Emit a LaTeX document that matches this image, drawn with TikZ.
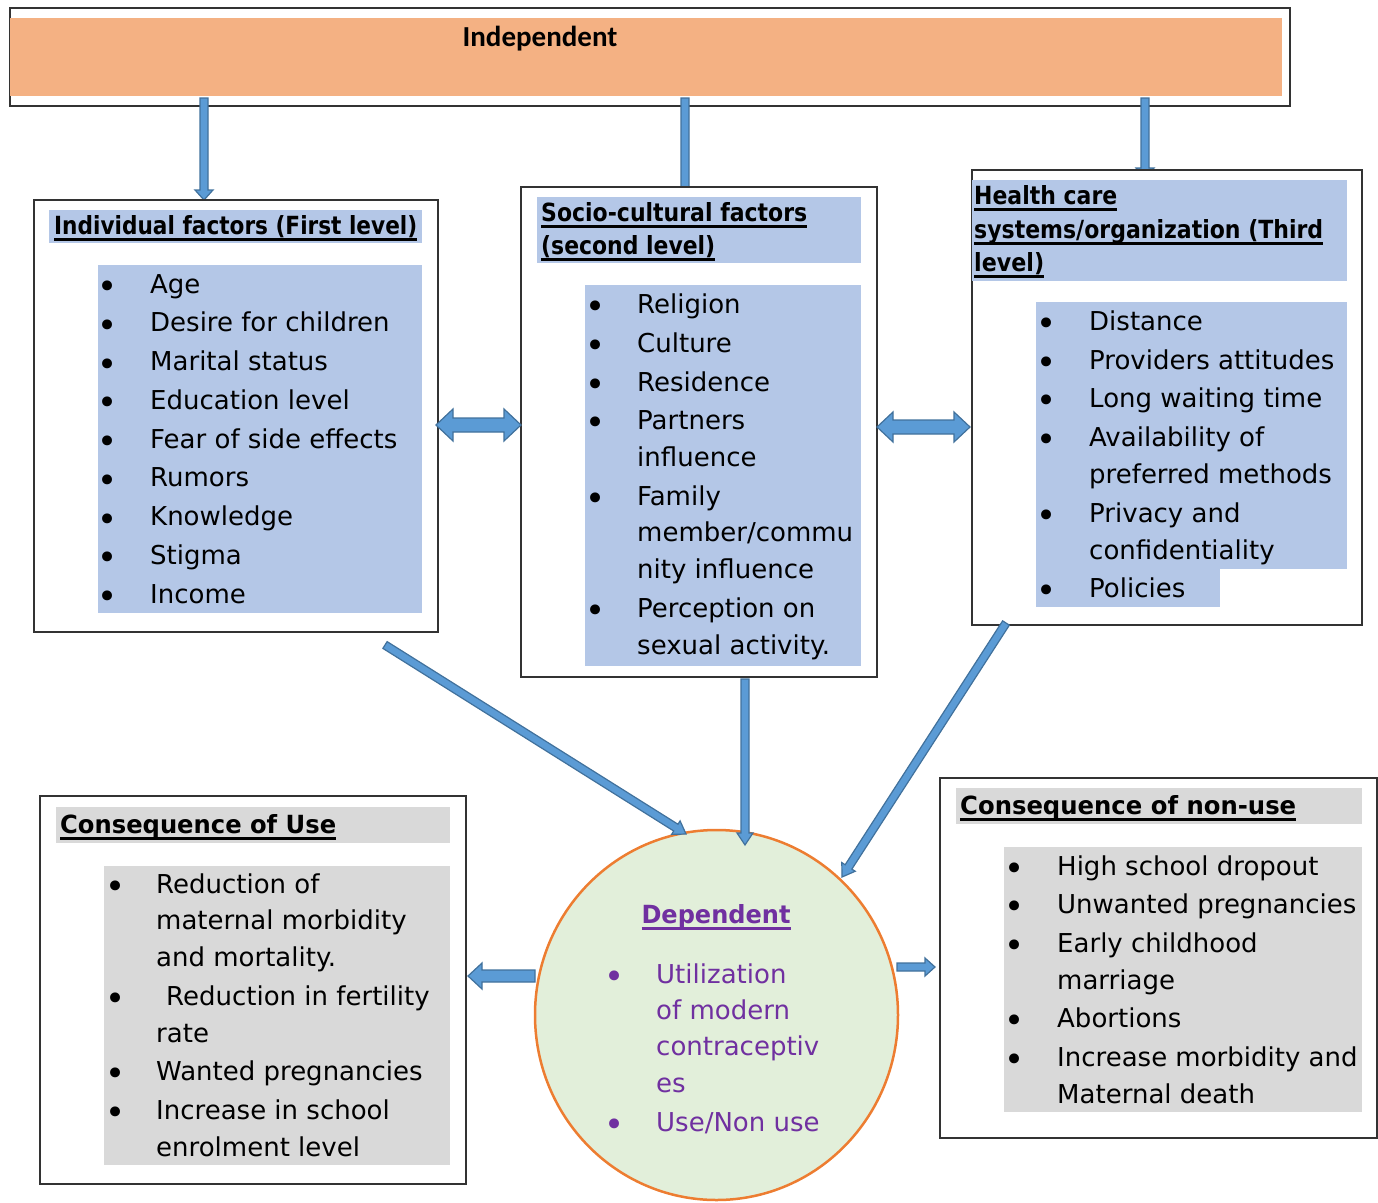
\documentclass[tikz,border=0pt]{standalone}
\usepackage{fontspec}
\usepackage{graphicx}
\setmainfont{DejaVu Sans}
\newfontfamily\carlito{Carlito}
\usetikzlibrary{calc,fit,shapes.geometric}
\definecolor{orangeF}{HTML}{F4B183}
\definecolor{lblue}{HTML}{B4C7E7}
\definecolor{lgray}{HTML}{D9D9D9}
\definecolor{arrF}{HTML}{5B9BD5}
\definecolor{arrD}{HTML}{41719C}
\definecolor{circF}{HTML}{E2EFDA}
\definecolor{circD}{HTML}{ED7D31}
\definecolor{purp}{HTML}{7030A0}
\definecolor{boxD}{HTML}{333333}
\newcommand\ulh[1]{\setbox0\hbox{#1}\rlap{\rule[-6.5pt]{\wd0}{2.2pt}}\box0}
\newcommand\hdl[2]{\resizebox{#1pt}{\height}{\ulh{#2}}}
\newcommand\blockarr[5]{%
  \coordinate (ba-h) at ($(#2)!#5!(#1)$);
  \draw[arr] ($(#1)!#3!90:(#2)$) -- ($(ba-h)!#3!90:(#2)$) -- ($(ba-h)!#4!90:(#2)$) -- (#2)
    -- ($(ba-h)!#4!-90:(#2)$) -- ($(ba-h)!#3!-90:(#2)$) -- ($(#1)!#3!-90:(#2)$) -- cycle;}
\newcommand\dblarr[5]{%
  \coordinate (da-a) at ($(#1)!#5!(#2)$);
  \coordinate (da-b) at ($(#2)!#5!(#1)$);
  \draw[arr] (#1) -- ($(da-a)!#4!90:(#2)$) -- ($(da-a)!#3!90:(#2)$) -- ($(da-b)!#3!90:(#2)$)
    -- ($(da-b)!#4!90:(#2)$) -- (#2) -- ($(da-b)!#4!-90:(#2)$) -- ($(da-b)!#3!-90:(#2)$)
    -- ($(da-a)!#3!-90:(#2)$) -- ($(da-a)!#4!-90:(#2)$) -- cycle;}
\tikzset{
  frame/.style={draw=boxD, line width=1.3pt, fill=white, inner sep=0pt},
  bgb/.style={fill=lblue, inner sep=0pt},
  bgg/.style={fill=lgray, inner sep=0pt},
  lt/.style={anchor=base west, inner sep=0pt, font=\fontsize{26}{30}\selectfont},
  bul/.style={anchor=base, inner sep=0pt, yshift=-5.5pt, font=\fontsize{34}{38}\selectfont},
  hd/.style={anchor=base west, inner sep=0pt, font=\bfseries\fontsize{25}{30}\selectfont},
  arr/.style={draw=arrD, fill=arrF, line width=1.2pt, line join=miter},
}
\begin{document}
\begin{tikzpicture}[x=1pt,y=-1pt]
\useasboundingbox (0,0) rectangle (1378,1202);
% top box
\node[frame, fit={(10,8) (1290,106)}] (top) {};
\node[fill=orangeF, inner sep=0pt, fit={(10,18) (1282,96)}] (topfill) {};
\node[anchor=base, inner sep=0pt, font=\carlito\bfseries\fontsize{29}{34}\selectfont] (indep) at (540,46) {Independent};
% top arrows
\coordinate (t1s) at (204,98); \coordinate (t1e) at (204,200);
\coordinate (t2s) at (685,98); \coordinate (t2e) at (685,197);
\coordinate (t3s) at (1145,98); \coordinate (t3e) at (1145,178);
\blockarr{t1s}{t1e}{4pt}{9pt}{10pt}
\blockarr{t2s}{t2e}{4pt}{9pt}{10pt}
\blockarr{t3s}{t3e}{4pt}{9pt}{10pt}
% individual
\node[frame, fit={(34,200) (438,632)}] (indiv) {};
\node[bgb, fit={(49,210) (422,243)}] (indivh) {};
\node[bgb, fit={(98,265) (422,613)}] (indivl) {};
\node[hd] (ih) at (54,234) {\hdl{363}{Individual factors (First level)}};
\foreach \t [count=\k] in {Age,Desire for children,Marital status,Education level,Fear of side effects,Rumors,Knowledge,Stigma,Income}{
  \node[bul] (ib\k) at (108,{293+38.75*(\k-1)}) {•};
  \node[lt] (it\k) at (150,{293+38.75*(\k-1)}) {\t};
}
% socio-cultural
\node[frame, fit={(521,187) (877,677)}] (socio) {};
\node[bgb, fit={(537,197) (861,263)}] (socioh) {};
\node[bgb, fit={(585,285) (861,666)}] (sociol) {};
\node[hd] (sh1) at (541,221) {\hdl{266}{Socio-cultural factors}};
\node[hd] (sh2) at (541,254) {\hdl{174}{(second level)}};
\node[bul] (sb1) at (596,313) {•}; \node[lt] (st1) at (637,313) {Religion};
\node[bul] (sb2) at (596,352) {•}; \node[lt] (st2) at (637,352) {Culture};
\node[bul] (sb3) at (596,391) {•}; \node[lt] (st3) at (637,391) {Residence};
\node[bul] (sb4) at (596,429) {•}; \node[lt] (st4) at (637,429) {Partners};
\node[lt] (st5) at (637,466) {influence};
\node[bul] (sb6) at (596,505) {•}; \node[lt] (st6) at (637,505) {Family};
\node[lt] (st7) at (637,541) {member/commu};
\node[lt] (st8) at (637,578) {nity influence};
\node[bul] (sb9) at (596,617) {•}; \node[lt] (st9) at (637,617) {Perception on};
\node[lt] (st10) at (637,654) {sexual activity.};
% health care
\node[frame, fit={(972,170) (1362,625)}] (health) {};
\node[bgb, fit={(972,180) (1347,281)}] (healthh) {};
\node[bgb, fit={(1036,302) (1347,569)}] (healthl) {};
\node[bgb, fit={(1036,568) (1220,607)}] (healthl2) {};
\node[hd] (hh1) at (974,204) {\hdl{143}{Health care}};
\node[hd] (hh2) at (974,238) {\hdl{349}{systems/organization (Third}};
\node[hd] (hh3) at (974,271) {\hdl{70}{level)}};
\node[bul] (hb1) at (1047,330) {•}; \node[lt] (ht1) at (1089,330) {Distance};
\node[bul] (hb2) at (1047,369) {•}; \node[lt] (ht2) at (1089,369) {Providers attitudes};
\node[bul] (hb3) at (1047,407) {•}; \node[lt] (ht3) at (1089,407) {Long waiting time};
\node[bul] (hb4) at (1047,446) {•}; \node[lt] (ht4) at (1089,446) {Availability of};
\node[lt] (ht5) at (1089,483) {preferred methods};
\node[bul] (hb6) at (1047,522) {•}; \node[lt] (ht6) at (1089,522) {Privacy and};
\node[lt] (ht7) at (1089,559) {confidentiality};
\node[bul] (hb8) at (1047,597) {•}; \node[lt] (ht8) at (1089,597) {Policies};
% double arrows
\coordinate (d1a) at (436,425); \coordinate (d1b) at (521,425);
\coordinate (d2a) at (877,427); \coordinate (d2b) at (970,427);
\dblarr{d1a}{d1b}{7pt}{16pt}{17pt}
\dblarr{d2a}{d2b}{7pt}{15pt}{16pt}
% dependent circle
\node[ellipse, draw=circD, fill=circF, line width=2.5pt, minimum width=363pt, minimum height=370pt, inner sep=0pt] (dep) at (716.5,1015) {};
\node[anchor=base, inner sep=0pt, text=purp, font=\bfseries\fontsize{25}{30}\selectfont] (deph) at (716,923) {\hdl{149}{Dependent}};
\begin{scope}[every node/.append style={text=purp}]
\node[bul] (db1) at (615,983) {•}; \node[lt] (dt1) at (656,983) {Utilization};
\node[lt] (dt2) at (656,1019) {of modern};
\node[lt] (dt3) at (656,1055) {contraceptiv};
\node[lt] (dt4) at (656,1092) {es};
\node[bul] (db5) at (615,1131) {•}; \node[lt] (dt5) at (656,1131) {Use/Non use};
\end{scope}
% consequence of use
\node[frame, fit={(40,796) (466,1184)}] (cuse) {};
\node[bgg, fit={(56,807) (450,843)}] (cuseh) {};
\node[bgg, fit={(104,866) (450,1165)}] (cusel) {};
\node[hd] (uh) at (60,833) {\hdl{276}{Consequence of Use}};
\node[bul] (ub1) at (116,893) {•}; \node[lt] (ut1) at (156,893) {Reduction of};
\node[lt] (ut2) at (156,929) {maternal morbidity};
\node[lt] (ut3) at (156,966) {and mortality.};
\node[bul] (ub4) at (116,1005) {•}; \node[lt] (ut4) at (166,1005) {Reduction in fertility};
\node[lt] (ut5) at (156,1042) {rate};
\node[bul] (ub6) at (116,1080) {•}; \node[lt] (ut6) at (156,1080) {Wanted pregnancies};
\node[bul] (ub7) at (116,1119) {•}; \node[lt] (ut7) at (156,1119) {Increase in school};
\node[lt] (ut8) at (156,1156) {enrolment level};
% consequence of non-use
\node[frame, fit={(940,778) (1377,1138)}] (cnon) {};
\node[bgg, fit={(956,788) (1362,824)}] (cnonh) {};
\node[bgg, fit={(1004,847) (1362,1112)}] (cnonl) {};
\node[hd] (nh) at (960,814) {\hdl{336}{Consequence of non-use}};
\node[bul] (nb1) at (1015,875) {•}; \node[lt] (nt1) at (1057,875) {High school dropout};
\node[bul] (nb2) at (1015,913) {•}; \node[lt] (nt2) at (1057,913) {Unwanted pregnancies};
\node[bul] (nb3) at (1015,952) {•}; \node[lt] (nt3) at (1057,952) {Early childhood};
\node[lt] (nt4) at (1057,989) {marriage};
\node[bul] (nb5) at (1015,1027) {•}; \node[lt] (nt5) at (1057,1027) {Abortions};
\node[bul] (nb6) at (1015,1066) {•}; \node[lt] (nt6) at (1057,1066) {Increase morbidity and};
\node[lt] (nt7) at (1057,1103) {Maternal death};
% arrows to and from the circle
\coordinate (aAs) at (385,645); \coordinate (aAe) at (686,834);
\coordinate (aBs) at (745,679); \coordinate (aBe) at (745,845);
\coordinate (aCs) at (1006,623); \coordinate (aCe) at (842,877);
\blockarr{aAs}{aAe}{4pt}{8pt}{12pt}
\blockarr{aBs}{aBe}{4pt}{8pt}{12pt}
\blockarr{aCs}{aCe}{4pt}{8pt}{12pt}
\coordinate (lAs) at (535,976); \coordinate (lAe) at (468,976);
\coordinate (rAs) at (897,967); \coordinate (rAe) at (935,967);
\blockarr{lAs}{lAe}{6pt}{13pt}{14pt}
\blockarr{rAs}{rAe}{4pt}{9pt}{10pt}
\end{tikzpicture}
\end{document}
